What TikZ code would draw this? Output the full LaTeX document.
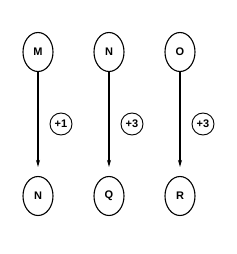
\documentclass[tikz,border=0pt]{standalone}
\usepackage{fontspec}
\setmainfont{Liberation Sans}
\usetikzlibrary{arrows.meta,shapes.geometric}
\begin{document}
\begin{tikzpicture}[x=1pt,y=-1pt,
  st/.style={draw,ellipse,line width=1.1pt,minimum width=30pt,minimum height=39pt,inner sep=0pt,font=\fontsize{11}{13}\selectfont\bfseries},
  lab/.style={draw,ellipse,line width=0.9pt,minimum width=22pt,minimum height=22pt,inner sep=0pt,font=\fontsize{11}{13}\selectfont\bfseries},
  arr/.style={line width=1.3pt,-{Stealth[length=7pt,width=4pt]},shorten >=9pt}]
\useasboundingbox (0,0) rectangle (237,254);
\node[st] (m) at (38,52) {M};
\node[st] (n1) at (109,52) {N};
\node[st] (o) at (180,52) {O};
\node[st] (n2) at (38,196) {N};
\node[st] (q) at (109,196) {Q};
\node[st] (r) at (180,196) {R};
\draw[arr] (m) -- (n2);
\draw[arr] (n1) -- (q);
\draw[arr] (o) -- (r);
\node[lab] (l1) at (61,124) {+1};
\node[lab] (l2) at (132,124) {+3};
\node[lab] (l3) at (203,124) {+3};
\end{tikzpicture}
\end{document}
